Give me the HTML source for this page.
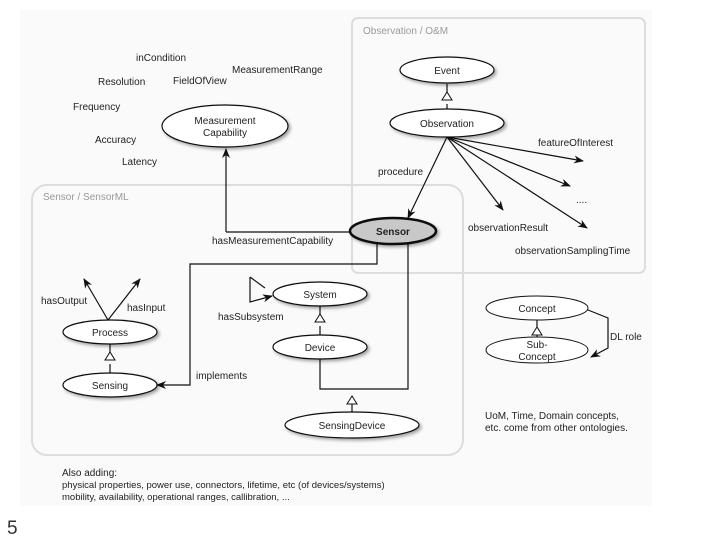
<!DOCTYPE html>
<html><head><meta charset="utf-8"><style>
body{margin:0;background:#fff}
svg{display:block}
text{font-family:"Liberation Sans",sans-serif;fill:#222}
</style></head><body>
<svg width="720" height="540" viewBox="0 0 720 540" xmlns="http://www.w3.org/2000/svg">
<defs>
<marker id="a" markerWidth="10" markerHeight="8" refX="9" refY="4" orient="auto" markerUnits="userSpaceOnUse"><path d="M0,0 L10,4 L0,8 L3,4Z" fill="#111"/></marker>
<filter id="s" x="-20%" y="-20%" width="150%" height="160%"><feDropShadow dx="2" dy="2" stdDeviation="1.5" flood-color="#000" flood-opacity="0.35"/></filter>
</defs>
<rect x="20" y="10" width="632" height="496" fill="#fafafa"/>
<rect x="352" y="18" width="293" height="255" rx="6" fill="none" stroke="#ddd" stroke-width="2"/>
<rect x="32" y="185" width="431" height="270" rx="15" fill="none" stroke="#ddd" stroke-width="2"/>
<text x="363" y="34" font-size="10" style="fill:#999">Observation / O&amp;M</text>
<text x="43" y="200" font-size="10" style="fill:#999">Sensor / SensorML</text>
<g font-size="10">
<text x="136" y="61">inCondition</text>
<text x="232" y="73">MeasurementRange</text>
<text x="98" y="85">Resolution</text>
<text x="173" y="84">FieldOfView</text>
<text x="73" y="110">Frequency</text>
<text x="95" y="143">Accuracy</text>
<text x="122" y="165">Latency</text>
</g>
<g fill="none" stroke="#111" stroke-width="1.2">
<path d="M226,232 V149" marker-end="url(#a)"/>
<path d="M226,232 H351"/>
<path d="M377,241 V264 H190 V385 H157" marker-end="url(#a)"/>
<path d="M408,244 V389 H320 V359"/>
<path d="M352,412 V400"/>
<path d="M447,84 V96"/><path d="M447,104 V109"/>
<path d="M447,137 L408,218" marker-end="url(#a)"/>
<path d="M447,137 L503,210" marker-end="url(#a)"/>
<path d="M447,137 L583,161" marker-end="url(#a)"/>
<path d="M447,137 L570,186" marker-end="url(#a)"/>
<path d="M447,137 L587,228" marker-end="url(#a)"/>
<path d="M108,320 L84,279" marker-end="url(#a)"/>
<path d="M108,320 L140,279" marker-end="url(#a)"/>
<path d="M110,344 V356"/><path d="M110,364 V373"/>
<path d="M320,306 V318"/><path d="M320,326 V335"/>
<path d="M250,277 L265,288 M250,277 V302 L272,296" marker-end="url(#a)"/>
<path d="M537,320 V327"/><path d="M537,335 V338"/>
<path d="M588,310 L608,318 V348 L591,357" marker-end="url(#a)"/>
</g>
<g fill="#fff" stroke="#111" stroke-width="1">
<path d="M447,92 L442,100 H452Z"/>
<path d="M110,352 L105,360 H115Z"/>
<path d="M320,314 L315,322 H325Z"/>
<path d="M352,396 L347,404 H357Z"/>
<path d="M537,327 L532,335 H542Z"/>
</g>
<g stroke="#111" stroke-width="1.2" fill="#fff" filter="url(#s)">
<ellipse cx="225" cy="126" rx="63" ry="21"/>
<ellipse cx="447" cy="70" rx="47" ry="13"/>
<ellipse cx="447" cy="123" rx="57" ry="14"/>
<ellipse cx="393" cy="231" rx="43" ry="13" fill="#c8c8c8" stroke-width="2.5"/>
<ellipse cx="110" cy="332" rx="47" ry="12"/>
<ellipse cx="110" cy="385" rx="47" ry="12"/>
<ellipse cx="320" cy="294" rx="47" ry="12"/>
<ellipse cx="320" cy="347" rx="47" ry="12"/>
<ellipse cx="352" cy="425" rx="67" ry="13"/>
</g>
<g stroke="#111" stroke-width="1" fill="#fff">
<ellipse cx="537" cy="308" rx="51" ry="12"/>
<ellipse cx="537" cy="350" rx="51" ry="13"/>
</g>
<g font-size="10" text-anchor="middle">
<text x="225" y="124">Measurement</text><text x="225" y="136">Capability</text>
<text x="447" y="74">Event</text>
<text x="447" y="127">Observation</text>
<text x="393" y="235" font-weight="bold">Sensor</text>
<text x="110" y="336">Process</text>
<text x="110" y="389">Sensing</text>
<text x="320" y="298">System</text>
<text x="320" y="351">Device</text>
<text x="352" y="429">SensingDevice</text>
<text x="537" y="312">Concept</text>
<text x="537" y="348">Sub-</text><text x="537" y="360">Concept</text>
</g>
<g font-size="10">
<text x="378" y="175">procedure</text>
<text x="538" y="146">featureOfInterest</text>
<text x="576" y="203">....</text>
<text x="468" y="231">observationResult</text>
<text x="515" y="254">observationSamplingTime</text>
<text x="212" y="244">hasMeasurementCapability</text>
<text x="41" y="304">hasOutput</text>
<text x="127" y="311">hasInput</text>
<text x="218" y="320">hasSubsystem</text>
<text x="196" y="379">implements</text>
<text x="610" y="340">DL role</text>
<text x="485" y="419">UoM, Time, Domain concepts,</text>
<text x="485" y="431">etc. come from other ontologies.</text>
<text x="62" y="476">Also adding:</text>
<text x="62" y="488" font-size="9.5">physical properties, power use, connectors, lifetime, etc (of devices/systems)</text>
<text x="62" y="500" font-size="9.5">mobility, availability, operational ranges, callibration, ...</text>
</g>
<text x="7" y="534" font-size="19" style="fill:#333">5</text>
</svg>
</body></html>
